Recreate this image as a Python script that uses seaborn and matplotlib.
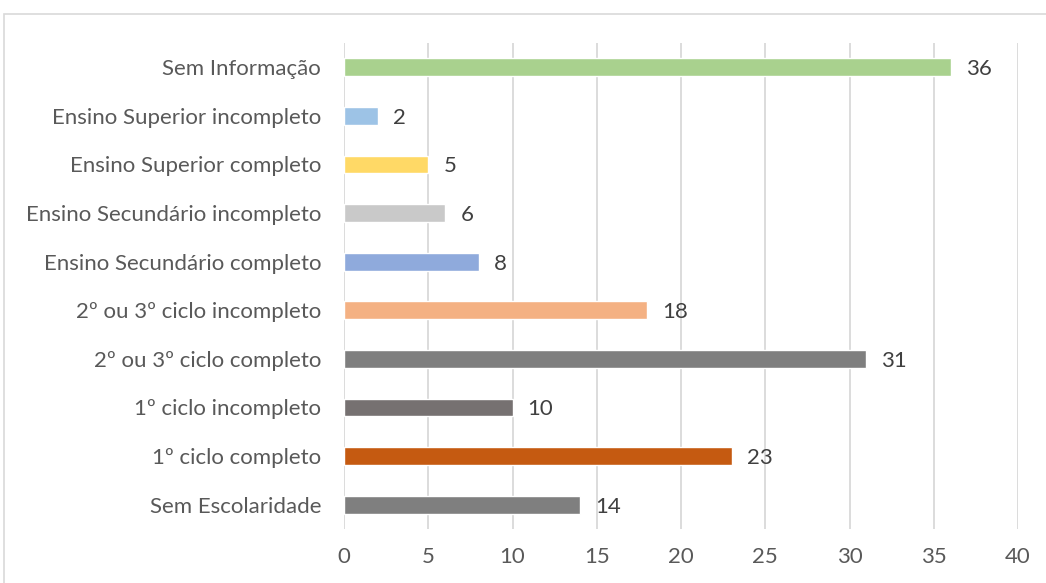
import matplotlib
matplotlib.use("Agg")
import matplotlib.pyplot as plt
import seaborn as sns
import pandas as pd
from matplotlib.patches import Rectangle

categories = [
    "Sem Informação",
    "Ensino Superior incompleto",
    "Ensino Superior completo",
    "Ensino Secundário incompleto",
    "Ensino Secundário completo",
    "2º ou 3º ciclo incompleto",
    "2º ou 3º ciclo completo",
    "1º ciclo incompleto",
    "1º ciclo completo",
    "Sem Escolaridade",
]
values = [36, 2, 5, 6, 8, 18, 31, 10, 23, 14]
colors = ["#A9D18E", "#9DC3E6", "#FFD966", "#C9C9C9", "#8FAADC",
          "#F4B183", "#7F7F7F", "#767171", "#C55A11", "#7F7F7F"]
xticks = [0, 5, 10, 15, 20, 25, 30, 35, 40]

sns.set_theme(style="white")
plt.rcParams['font.family'] = ['Lato', 'DejaVu Sans']

df = pd.DataFrame({"cat": categories, "val": values})

fig = plt.figure(figsize=(10.46, 5.83), dpi=100)
ax = fig.add_axes([344/1046, 1-529/583, (1018-344)/1046, (529-43)/583])

sns.barplot(data=df, x="val", y="cat", hue="cat", palette=colors, legend=False,
            width=0.37, ax=ax, orient="h", saturation=1)

for i, v in enumerate(values):
    ax.text(v + 0.9, i, str(v), va="center_baseline", ha="left", fontsize=16,
            color="#404040")

ax.set_xlim(0, 40)
ax.set_ylim(len(categories) - 0.5, -0.5)
ax.set_xticks(xticks)
ax.set_xticklabels([str(t) for t in xticks])
ax.xaxis.grid(True, color="#D9D9D9", linewidth=1.3)
ax.yaxis.grid(False)
ax.set_axisbelow(True)
for s in ax.spines.values():
    s.set_visible(False)
ax.set_xlabel("")
ax.set_ylabel("")
ax.tick_params(axis="x", length=0, pad=13, labelsize=16, labelcolor="#595959")
ax.tick_params(axis="y", length=0, pad=16.5, labelsize=16, labelcolor="#595959")

fig.patches.append(Rectangle((4/1046, -0.2), 1.2, 1.2 - 14/583, transform=fig.transFigure,
                             fill=False, edgecolor="#D9D9D9", linewidth=1.2))

fig.savefig("out.png", dpi=100)
